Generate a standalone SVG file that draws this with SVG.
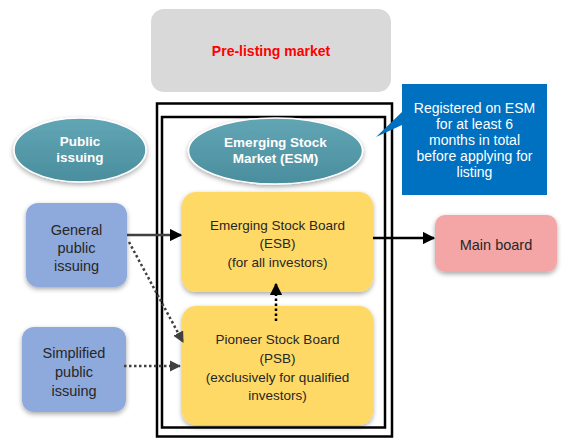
<svg xmlns="http://www.w3.org/2000/svg" width="562" height="447" viewBox="0 0 562 447">
<defs>
<filter id="sh" x="-20%" y="-20%" width="140%" height="150%">
<feGaussianBlur in="SourceAlpha" stdDeviation="2.5"/>
<feOffset dx="0" dy="2" result="b"/>
<feComponentTransfer><feFuncA type="linear" slope="0.35"/></feComponentTransfer>
<feMerge><feMergeNode/><feMergeNode in="SourceGraphic"/></feMerge>
</filter>
<linearGradient id="teal" x1="0" y1="0" x2="0" y2="1">
<stop offset="0" stop-color="#62A6B5"/>
<stop offset="1" stop-color="#4A8E9E"/>
</linearGradient>
<marker id="ah" viewBox="0 0 10 10" refX="9" refY="5" markerWidth="4.5" markerHeight="4.5" orient="auto" markerUnits="strokeWidth">
<path d="M0,0 L10,5 L0,10 z" fill="#404040"/>
</marker>
<marker id="ahk" viewBox="0 0 10 10" refX="9" refY="5" markerWidth="5" markerHeight="5" orient="auto" markerUnits="strokeWidth">
<path d="M0,0 L10,5 L0,10 z" fill="#000"/>
</marker>
</defs>
<style>
text{font-family:"Liberation Sans",Arial,sans-serif;font-size:13.5px;fill:#262626;text-anchor:middle}
.l{font-size:14.5px}
.w{fill:#fff;font-weight:bold;font-size:13.5px}
.cw{fill:#fff;font-size:14px}
.ellipse{fill:url(#teal);stroke:#fff;stroke-width:1.5}
.box{fill:#8EA9DB}
.yel{fill:#FFD966}
.con{fill:none;stroke:#404040;stroke-width:2.5}
.dot{stroke-dasharray:2.5 2.5}
</style>

<g id="prelisting">
<rect x="151" y="9" width="240" height="83" rx="13" fill="#D9D9D9"/>
<text x="271" y="56" style="fill:#FF0000;font-weight:bold;font-size:14px">Pre-listing market</text>
</g>

<g id="esm-frame">
<rect x="157" y="103.5" width="235" height="333" fill="none" stroke="#000" stroke-width="2.5"/>
<rect x="162" y="117" width="223" height="310.5" fill="none" stroke="#000" stroke-width="2.5"/>
</g>

<g id="public-issuing">
<ellipse cx="80" cy="150" rx="66" ry="32" class="ellipse" filter="url(#sh)"/>
<text class="w" x="80" y="146">Public</text>
<text class="w" x="80" y="162">issuing</text>
</g>

<g id="esm">
<ellipse cx="275.5" cy="151" rx="87" ry="33" class="ellipse" filter="url(#sh)"/>
<text class="w" x="275.5" y="147">Emerging Stock</text>
<text class="w" x="275.5" y="163">Market (ESM)</text>
</g>

<g id="callout">
<path d="M402,84 H547 V195 H402 V125 L376,137 L402,112 Z" fill="#0070C0"/>
<text class="cw" x="474.5" y="113">Registered on ESM</text>
<text class="cw" x="474.5" y="129">for at least 6</text>
<text class="cw" x="474.5" y="145">months in total</text>
<text class="cw" x="474.5" y="161">before applying for</text>
<text class="cw" x="474.5" y="177">listing</text>
</g>

<g id="general">
<rect x="26" y="203" width="101" height="84" rx="12" class="box" filter="url(#sh)"/>
<text class="l" x="76.5" y="235">General</text>
<text class="l" x="76.5" y="253">public</text>
<text class="l" x="76.5" y="271">issuing</text>
</g>

<g id="simplified">
<rect x="22" y="327" width="104" height="85" rx="12" class="box" filter="url(#sh)"/>
<text class="l" x="74" y="358">Simplified</text>
<text class="l" x="74" y="377">public</text>
<text class="l" x="74" y="396">issuing</text>
</g>

<g id="esb">
<rect x="182" y="192" width="191" height="100" rx="14" class="yel" filter="url(#sh)"/>
<text x="277.5" y="230">Emerging Stock Board</text>
<text x="277.5" y="248">(ESB)</text>
<text x="277.5" y="267">(for all investors)</text>
</g>

<g id="psb">
<rect x="182" y="306" width="191" height="119" rx="14" class="yel" filter="url(#sh)"/>
<text x="277.5" y="344">Pioneer Stock Board</text>
<text x="277.5" y="363">(PSB)</text>
<text x="277.5" y="382">(exclusively for qualified</text>
<text x="277.5" y="400">investors)</text>
</g>

<g id="main-board">
<rect x="435" y="215" width="122" height="57" rx="10" fill="#F4A6A6" filter="url(#sh)"/>
<text class="l" x="496" y="250">Main board</text>
</g>

<g id="connectors">
<line x1="127" y1="235" x2="181" y2="235" class="con" marker-end="url(#ahk)" style="stroke:#404040"/>
<line x1="129" y1="242" x2="183" y2="342" class="con dot" marker-end="url(#ah)"/>
<line x1="124" y1="366" x2="180" y2="366" class="con dot" marker-end="url(#ah)"/>
<line x1="276" y1="321" x2="276" y2="284" class="con dot" style="stroke:#000" marker-end="url(#ahk)"/>
<line x1="373" y1="238" x2="434" y2="238" class="con" style="stroke:#000" marker-end="url(#ahk)"/>
</g>
</svg>
